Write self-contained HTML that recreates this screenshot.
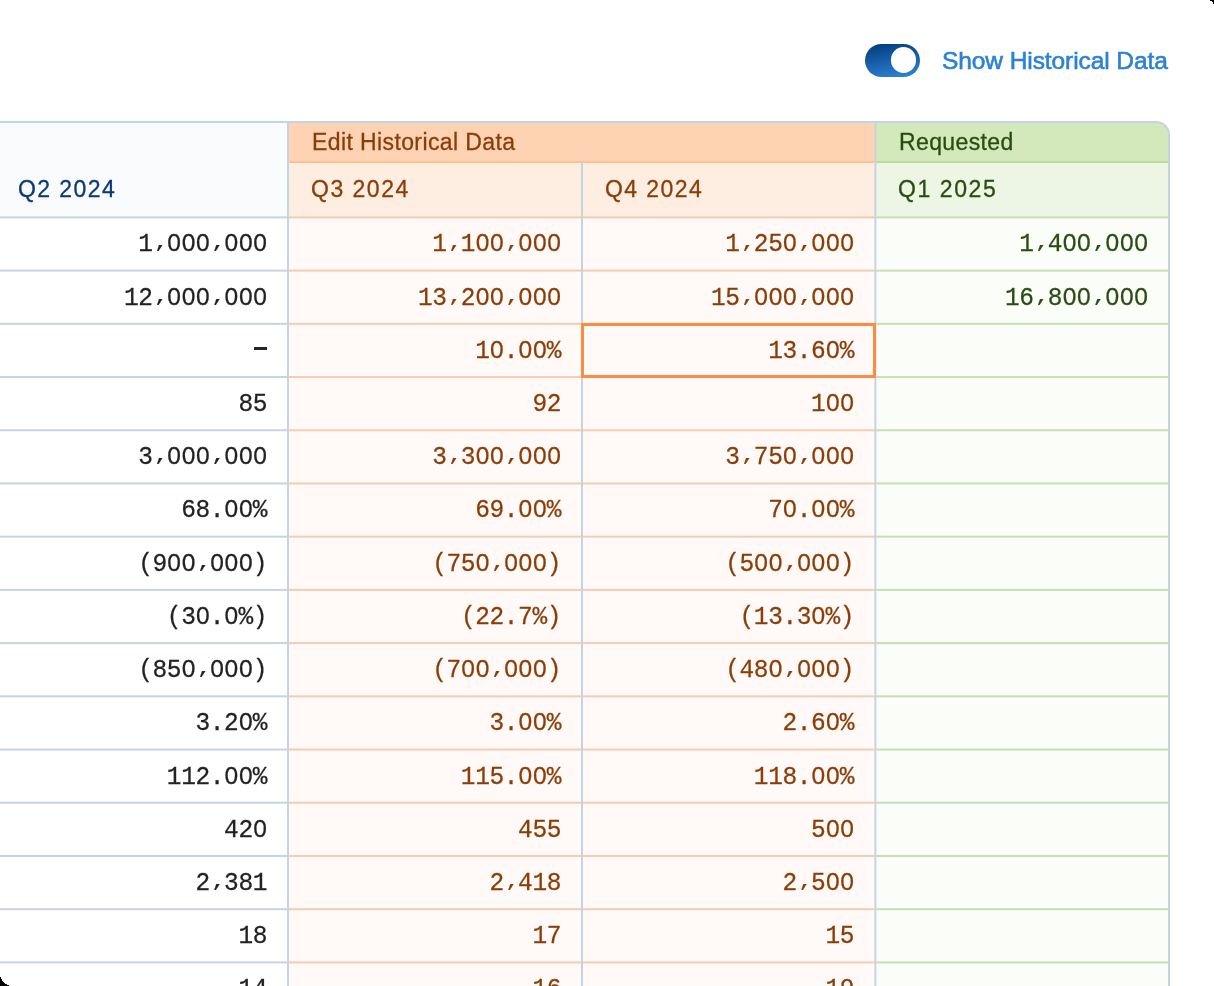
<!DOCTYPE html>
<html><head><meta charset="utf-8"><style>
html,body{margin:0;padding:0;background:#fff;}
.n,.t{will-change:transform}
body{width:1214px;height:986px;overflow:hidden;position:relative;}
.n{position:absolute;width:400px;text-align:right;white-space:nowrap;font-family:'Liberation Mono', monospace;font-size:24.5px;line-height:24.5px;letter-spacing:-0.4px;-webkit-text-stroke:0.25px currentColor;transform:scaleY(1.06);transform-origin:0 0;}
.z{position:relative}
.c{display:inline-block;transform:translate(1.5px,-1px) scaleY(0.72);transform-origin:50% 11.5px}
.z::after{content:'';position:absolute;left:5.1px;top:8.5px;width:4.5px;height:6.5px;background:var(--bg)}
</style></head><body>
<div style="position:absolute;left:-6.00px;top:122.00px;width:294.00px;height:95.40px;background:#f9fbfd"></div>
<div style="position:absolute;left:-6.00px;top:217.40px;width:294.00px;height:768.60px;background:#ffffff"></div>
<div style="position:absolute;left:288.00px;top:122.00px;width:587.40px;height:40.10px;background:#fdd3b4"></div>
<div style="position:absolute;left:288.00px;top:162.10px;width:587.40px;height:55.30px;background:#feeee2"></div>
<div style="position:absolute;left:288.00px;top:217.40px;width:587.40px;height:768.60px;background:#fffaf7"></div>
<div style="position:absolute;left:875.40px;top:122.00px;width:293.60px;height:40.10px;background:#d3e8bb;border-top-right-radius:13px"></div>
<div style="position:absolute;left:875.40px;top:162.10px;width:293.60px;height:55.30px;background:#edf5e4"></div>
<div style="position:absolute;left:875.40px;top:217.40px;width:293.60px;height:768.60px;background:#fbfdf8"></div>
<svg style="position:absolute;left:0;top:0" width="1214" height="986" viewBox="0 0 1214 986"><rect x="289.00" y="161.30" width="585.40" height="1.60" fill="#fdba8c"/><rect x="876.40" y="161.30" width="291.60" height="1.60" fill="#b5d98f"/><rect x="-6.00" y="216.40" width="293.00" height="2.00" fill="#c6d4e0"/><rect x="289.00" y="216.40" width="587.40" height="2.00" fill="#f2cdb3"/><rect x="876.40" y="216.40" width="291.60" height="2.00" fill="#c9ddb5"/><rect x="-6.00" y="269.61" width="293.00" height="2.00" fill="#c6d4e0"/><rect x="289.00" y="269.61" width="587.40" height="2.00" fill="#f2cdb3"/><rect x="876.40" y="269.61" width="291.60" height="2.00" fill="#c9ddb5"/><rect x="-6.00" y="322.83" width="293.00" height="2.00" fill="#c6d4e0"/><rect x="289.00" y="322.83" width="587.40" height="2.00" fill="#f2cdb3"/><rect x="876.40" y="322.83" width="291.60" height="2.00" fill="#c9ddb5"/><rect x="-6.00" y="376.04" width="293.00" height="2.00" fill="#c6d4e0"/><rect x="289.00" y="376.04" width="587.40" height="2.00" fill="#f2cdb3"/><rect x="876.40" y="376.04" width="291.60" height="2.00" fill="#c9ddb5"/><rect x="-6.00" y="429.26" width="293.00" height="2.00" fill="#c6d4e0"/><rect x="289.00" y="429.26" width="587.40" height="2.00" fill="#f2cdb3"/><rect x="876.40" y="429.26" width="291.60" height="2.00" fill="#c9ddb5"/><rect x="-6.00" y="482.47" width="293.00" height="2.00" fill="#c6d4e0"/><rect x="289.00" y="482.47" width="587.40" height="2.00" fill="#f2cdb3"/><rect x="876.40" y="482.47" width="291.60" height="2.00" fill="#c9ddb5"/><rect x="-6.00" y="535.68" width="293.00" height="2.00" fill="#c6d4e0"/><rect x="289.00" y="535.68" width="587.40" height="2.00" fill="#f2cdb3"/><rect x="876.40" y="535.68" width="291.60" height="2.00" fill="#c9ddb5"/><rect x="-6.00" y="588.90" width="293.00" height="2.00" fill="#c6d4e0"/><rect x="289.00" y="588.90" width="587.40" height="2.00" fill="#f2cdb3"/><rect x="876.40" y="588.90" width="291.60" height="2.00" fill="#c9ddb5"/><rect x="-6.00" y="642.11" width="293.00" height="2.00" fill="#c6d4e0"/><rect x="289.00" y="642.11" width="587.40" height="2.00" fill="#f2cdb3"/><rect x="876.40" y="642.11" width="291.60" height="2.00" fill="#c9ddb5"/><rect x="-6.00" y="695.33" width="293.00" height="2.00" fill="#c6d4e0"/><rect x="289.00" y="695.33" width="587.40" height="2.00" fill="#f2cdb3"/><rect x="876.40" y="695.33" width="291.60" height="2.00" fill="#c9ddb5"/><rect x="-6.00" y="748.54" width="293.00" height="2.00" fill="#c6d4e0"/><rect x="289.00" y="748.54" width="587.40" height="2.00" fill="#f2cdb3"/><rect x="876.40" y="748.54" width="291.60" height="2.00" fill="#c9ddb5"/><rect x="-6.00" y="801.75" width="293.00" height="2.00" fill="#c6d4e0"/><rect x="289.00" y="801.75" width="587.40" height="2.00" fill="#f2cdb3"/><rect x="876.40" y="801.75" width="291.60" height="2.00" fill="#c9ddb5"/><rect x="-6.00" y="854.97" width="293.00" height="2.00" fill="#c6d4e0"/><rect x="289.00" y="854.97" width="587.40" height="2.00" fill="#f2cdb3"/><rect x="876.40" y="854.97" width="291.60" height="2.00" fill="#c9ddb5"/><rect x="-6.00" y="908.18" width="293.00" height="2.00" fill="#c6d4e0"/><rect x="289.00" y="908.18" width="587.40" height="2.00" fill="#f2cdb3"/><rect x="876.40" y="908.18" width="291.60" height="2.00" fill="#c9ddb5"/><rect x="-6.00" y="961.40" width="293.00" height="2.00" fill="#c6d4e0"/><rect x="289.00" y="961.40" width="587.40" height="2.00" fill="#f2cdb3"/><rect x="876.40" y="961.40" width="291.60" height="2.00" fill="#c9ddb5"/><rect x="287.00" y="122.00" width="2.00" height="864.00" fill="#c6d4e0"/><rect x="581.00" y="162.90" width="2.00" height="823.10" fill="#c6d4e0"/><rect x="874.40" y="122.00" width="2.00" height="864.00" fill="#c6d4e0"/><path d="M -6.0 122.0 L 1156.0 122.0 A 13 13 0 0 1 1169.0 135.0 L 1169.0 986" fill="none" stroke="#c6d4e0" stroke-width="2"/></svg>
<div style="position:absolute;left:581.00px;top:323.00px;width:295.00px;height:55.00px;box-sizing:border-box;border:3px solid #ff8b3d;box-shadow:inset 0 0 0 1px #fff"></div>
<div class="t" style="position:absolute;left:17.50px;top:178.00px;white-space:nowrap;font-family:'Liberation Sans', sans-serif;font-size:23px;line-height:23px;letter-spacing:1.417px;font-weight:normal;color:#0b3a74;-webkit-text-stroke:0.3px #0b3a74">Q2 2024</div>
<div class="t" style="position:absolute;left:311.90px;top:131.20px;white-space:nowrap;font-family:'Liberation Sans', sans-serif;font-size:23px;line-height:23px;letter-spacing:0.395px;font-weight:normal;color:#8b3d08;-webkit-text-stroke:0.3px #8b3d08">Edit Historical Data</div>
<div class="t" style="position:absolute;left:310.90px;top:178.20px;white-space:nowrap;font-family:'Liberation Sans', sans-serif;font-size:23px;line-height:23px;letter-spacing:1.5px;font-weight:normal;color:#8b3d08;-webkit-text-stroke:0.3px #8b3d08">Q3 2024</div>
<div class="t" style="position:absolute;left:604.60px;top:178.20px;white-space:nowrap;font-family:'Liberation Sans', sans-serif;font-size:23px;line-height:23px;letter-spacing:1.417px;font-weight:normal;color:#8b3d08;-webkit-text-stroke:0.3px #8b3d08">Q4 2024</div>
<div class="t" style="position:absolute;left:898.60px;top:131.20px;white-space:nowrap;font-family:'Liberation Sans', sans-serif;font-size:23px;line-height:23px;letter-spacing:0.375px;font-weight:normal;color:#2a4c12;-webkit-text-stroke:0.3px #2a4c12">Requested</div>
<div class="t" style="position:absolute;left:897.90px;top:178.20px;white-space:nowrap;font-family:'Liberation Sans', sans-serif;font-size:23px;line-height:23px;letter-spacing:1.583px;font-weight:normal;color:#2a4c12;-webkit-text-stroke:0.3px #2a4c12">Q1 2025</div>
<div class="n" style="left:-133.50px;top:232.40px;color:#222222;--bg:#ffffff">1<span class="c">,</span><span class="z">0</span><span class="z">0</span><span class="z">0</span><span class="c">,</span><span class="z">0</span><span class="z">0</span><span class="z">0</span></div>
<div class="n" style="left:160.50px;top:232.40px;color:#8b3d08;--bg:#fffaf7">1<span class="c">,</span>1<span class="z">0</span><span class="z">0</span><span class="c">,</span><span class="z">0</span><span class="z">0</span><span class="z">0</span></div>
<div class="n" style="left:453.90px;top:232.40px;color:#8b3d08;--bg:#fffaf7">1<span class="c">,</span>25<span class="z">0</span><span class="c">,</span><span class="z">0</span><span class="z">0</span><span class="z">0</span></div>
<div class="n" style="left:747.50px;top:232.40px;color:#2a4c12;--bg:#fbfdf8">1<span class="c">,</span>4<span class="z">0</span><span class="z">0</span><span class="c">,</span><span class="z">0</span><span class="z">0</span><span class="z">0</span></div>
<div class="n" style="left:-133.50px;top:285.61px;color:#222222;--bg:#ffffff">12<span class="c">,</span><span class="z">0</span><span class="z">0</span><span class="z">0</span><span class="c">,</span><span class="z">0</span><span class="z">0</span><span class="z">0</span></div>
<div class="n" style="left:160.50px;top:285.61px;color:#8b3d08;--bg:#fffaf7">13<span class="c">,</span>2<span class="z">0</span><span class="z">0</span><span class="c">,</span><span class="z">0</span><span class="z">0</span><span class="z">0</span></div>
<div class="n" style="left:453.90px;top:285.61px;color:#8b3d08;--bg:#fffaf7">15<span class="c">,</span><span class="z">0</span><span class="z">0</span><span class="z">0</span><span class="c">,</span><span class="z">0</span><span class="z">0</span><span class="z">0</span></div>
<div class="n" style="left:747.50px;top:285.61px;color:#2a4c12;--bg:#fbfdf8">16<span class="c">,</span>8<span class="z">0</span><span class="z">0</span><span class="c">,</span><span class="z">0</span><span class="z">0</span><span class="z">0</span></div>
<div class="n" style="left:160.50px;top:338.83px;color:#8b3d08;--bg:#fffaf7">1<span class="z">0</span>.<span class="z">0</span><span class="z">0</span>%</div>
<div class="n" style="left:453.90px;top:338.83px;color:#8b3d08;--bg:#fffaf7">13.6<span class="z">0</span>%</div>
<div class="n" style="left:-133.50px;top:392.04px;color:#222222;--bg:#ffffff">85</div>
<div class="n" style="left:160.50px;top:392.04px;color:#8b3d08;--bg:#fffaf7">92</div>
<div class="n" style="left:453.90px;top:392.04px;color:#8b3d08;--bg:#fffaf7">1<span class="z">0</span><span class="z">0</span></div>
<div class="n" style="left:-133.50px;top:445.26px;color:#222222;--bg:#ffffff">3<span class="c">,</span><span class="z">0</span><span class="z">0</span><span class="z">0</span><span class="c">,</span><span class="z">0</span><span class="z">0</span><span class="z">0</span></div>
<div class="n" style="left:160.50px;top:445.26px;color:#8b3d08;--bg:#fffaf7">3<span class="c">,</span>3<span class="z">0</span><span class="z">0</span><span class="c">,</span><span class="z">0</span><span class="z">0</span><span class="z">0</span></div>
<div class="n" style="left:453.90px;top:445.26px;color:#8b3d08;--bg:#fffaf7">3<span class="c">,</span>75<span class="z">0</span><span class="c">,</span><span class="z">0</span><span class="z">0</span><span class="z">0</span></div>
<div class="n" style="left:-133.50px;top:498.47px;color:#222222;--bg:#ffffff">68.<span class="z">0</span><span class="z">0</span>%</div>
<div class="n" style="left:160.50px;top:498.47px;color:#8b3d08;--bg:#fffaf7">69.<span class="z">0</span><span class="z">0</span>%</div>
<div class="n" style="left:453.90px;top:498.47px;color:#8b3d08;--bg:#fffaf7">7<span class="z">0</span>.<span class="z">0</span><span class="z">0</span>%</div>
<div class="n" style="left:-133.50px;top:551.68px;color:#222222;--bg:#ffffff">(9<span class="z">0</span><span class="z">0</span><span class="c">,</span><span class="z">0</span><span class="z">0</span><span class="z">0</span>)</div>
<div class="n" style="left:160.50px;top:551.68px;color:#8b3d08;--bg:#fffaf7">(75<span class="z">0</span><span class="c">,</span><span class="z">0</span><span class="z">0</span><span class="z">0</span>)</div>
<div class="n" style="left:453.90px;top:551.68px;color:#8b3d08;--bg:#fffaf7">(5<span class="z">0</span><span class="z">0</span><span class="c">,</span><span class="z">0</span><span class="z">0</span><span class="z">0</span>)</div>
<div class="n" style="left:-133.50px;top:604.90px;color:#222222;--bg:#ffffff">(3<span class="z">0</span>.<span class="z">0</span>%)</div>
<div class="n" style="left:160.50px;top:604.90px;color:#8b3d08;--bg:#fffaf7">(22.7%)</div>
<div class="n" style="left:453.90px;top:604.90px;color:#8b3d08;--bg:#fffaf7">(13.3<span class="z">0</span>%)</div>
<div class="n" style="left:-133.50px;top:658.11px;color:#222222;--bg:#ffffff">(85<span class="z">0</span><span class="c">,</span><span class="z">0</span><span class="z">0</span><span class="z">0</span>)</div>
<div class="n" style="left:160.50px;top:658.11px;color:#8b3d08;--bg:#fffaf7">(7<span class="z">0</span><span class="z">0</span><span class="c">,</span><span class="z">0</span><span class="z">0</span><span class="z">0</span>)</div>
<div class="n" style="left:453.90px;top:658.11px;color:#8b3d08;--bg:#fffaf7">(48<span class="z">0</span><span class="c">,</span><span class="z">0</span><span class="z">0</span><span class="z">0</span>)</div>
<div class="n" style="left:-133.50px;top:711.33px;color:#222222;--bg:#ffffff">3.2<span class="z">0</span>%</div>
<div class="n" style="left:160.50px;top:711.33px;color:#8b3d08;--bg:#fffaf7">3.<span class="z">0</span><span class="z">0</span>%</div>
<div class="n" style="left:453.90px;top:711.33px;color:#8b3d08;--bg:#fffaf7">2.6<span class="z">0</span>%</div>
<div class="n" style="left:-133.50px;top:764.54px;color:#222222;--bg:#ffffff">112.<span class="z">0</span><span class="z">0</span>%</div>
<div class="n" style="left:160.50px;top:764.54px;color:#8b3d08;--bg:#fffaf7">115.<span class="z">0</span><span class="z">0</span>%</div>
<div class="n" style="left:453.90px;top:764.54px;color:#8b3d08;--bg:#fffaf7">118.<span class="z">0</span><span class="z">0</span>%</div>
<div class="n" style="left:-133.50px;top:817.75px;color:#222222;--bg:#ffffff">42<span class="z">0</span></div>
<div class="n" style="left:160.50px;top:817.75px;color:#8b3d08;--bg:#fffaf7">455</div>
<div class="n" style="left:453.90px;top:817.75px;color:#8b3d08;--bg:#fffaf7">5<span class="z">0</span><span class="z">0</span></div>
<div class="n" style="left:-133.50px;top:870.97px;color:#222222;--bg:#ffffff">2<span class="c">,</span>381</div>
<div class="n" style="left:160.50px;top:870.97px;color:#8b3d08;--bg:#fffaf7">2<span class="c">,</span>418</div>
<div class="n" style="left:453.90px;top:870.97px;color:#8b3d08;--bg:#fffaf7">2<span class="c">,</span>5<span class="z">0</span><span class="z">0</span></div>
<div class="n" style="left:-133.50px;top:924.18px;color:#222222;--bg:#ffffff">18</div>
<div class="n" style="left:160.50px;top:924.18px;color:#8b3d08;--bg:#fffaf7">17</div>
<div class="n" style="left:453.90px;top:924.18px;color:#8b3d08;--bg:#fffaf7">15</div>
<div class="n" style="left:-133.50px;top:977.40px;color:#222222;--bg:#ffffff">14</div>
<div class="n" style="left:160.50px;top:977.40px;color:#8b3d08;--bg:#fffaf7">16</div>
<div class="n" style="left:453.90px;top:977.40px;color:#8b3d08;--bg:#fffaf7">19</div>
<div style="position:absolute;left:254.20px;top:347.20px;width:12.70px;height:2.50px;background:#262626"></div>
<div style="position:absolute;left:865px;top:44px;width:55px;height:33px;border-radius:16.5px;background:linear-gradient(170deg,#003a78 0%,#1a64b0 55%,#2f88d8 100%)"></div>
<div style="position:absolute;left:890.7px;top:47.3px;width:25.6px;height:25.6px;border-radius:50%;background:#fff"></div>
<div class="t" style="position:absolute;left:941.85px;top:49.20px;white-space:nowrap;font-family:'Liberation Sans', sans-serif;font-size:24.5px;line-height:24.5px;letter-spacing:-0.08px;-webkit-text-stroke:0.6px #2c82d4;color:#2c82d4">Show Historical Data</div>
<svg style="position:absolute;left:0;top:0" width="1214" height="986" shape-rendering="crispEdges"><path d="M1210 0 H1214 V4 H1213 V2 H1212 V1 H1210 Z" fill="#000"/><path d="M0 977 H1 V979 H2 V981 H3 V982 H4 V983 H5 V984 H7 V985 H9 V986 H0 Z" fill="#000"/></svg>
</body></html>
